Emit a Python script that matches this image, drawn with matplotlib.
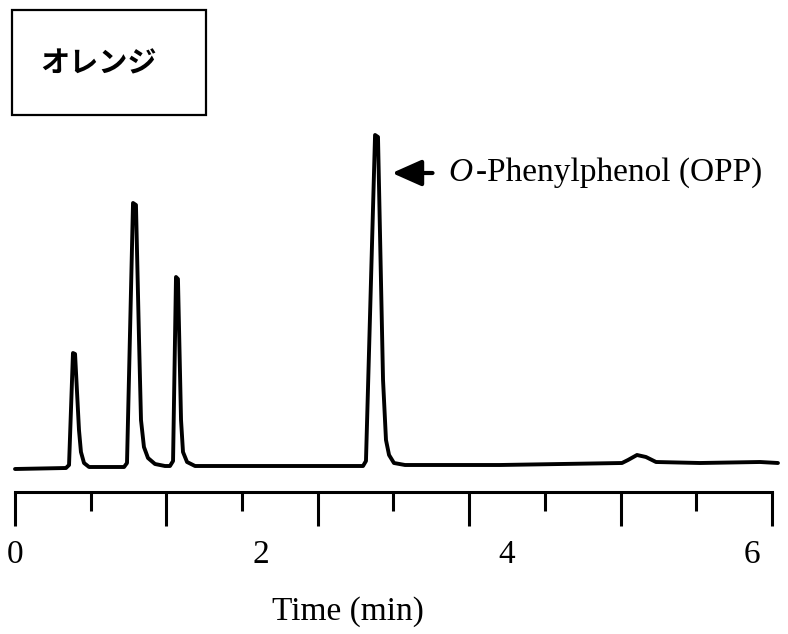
import numpy as np
import matplotlib
matplotlib.use("Agg")
import matplotlib.pyplot as plt
from matplotlib.patches import Rectangle

# chromatogram trace (time in min, detector signal in arbitrary units)
time = [0.000, 0.415, 0.440, 0.472, 0.489, 0.521, 0.537, 0.562, 0.603,
        0.888, 0.912, 0.961, 0.985, 1.010, 1.026, 1.050, 1.083, 1.140, 1.221,
        1.262, 1.287, 1.311, 1.327, 1.352, 1.368, 1.401, 1.466,
        2.321, 2.834, 2.858, 2.932, 2.956, 2.997, 3.021, 3.046, 3.086, 3.176,
        3.949, 4.943, 4.992, 5.065, 5.138, 5.220, 5.578, 6.067, 6.213]
signal = [0, 1, 4, 116, 115, 39, 17, 6, 2,
          2, 6, 266, 264, 129, 49, 22, 11, 5, 3,
          3, 8, 192, 190, 49, 17, 7, 3,
          3, 3, 8, 334, 332, 89, 29, 14, 6, 4,
          4, 6, 9, 14, 12, 7, 6, 7, 6]

tick_labels = ["0", "2", "4", "6"]
label_pos = [0, 2, 4, 6]
axis_end = 6.164          # recorder scale end
sample = "オレンジ"
peak_name = "-Phenylphenol (OPP)"

fig = plt.figure(figsize=(7.88, 6.34), dpi=100)
ax = fig.add_axes([0, 0, 1, 1])
ax.set_xlim(-0.1222, 6.2948)
ax.set_ylim(-165, 469)

ax.plot(time, signal, color="black", lw=2.8, solid_joinstyle="round", solid_capstyle="round")

# time axis drawn as a recorder scale below the trace
for s in ["top", "left", "right"]:
    ax.spines[s].set_visible(False)
ax.spines["bottom"].set_position(("data", -23))
ax.spines["bottom"].set_bounds(0, axis_end)
ax.spines["bottom"].set_linewidth(2.2)
ticks = np.linspace(0, axis_end, 11)
ax.set_xticks(ticks[::2])
ax.set_xticks(ticks[1::2], minor=True)
ax.set_xticklabels([])
ax.tick_params(axis="x", which="major", direction="out", length=24.5, width=2.2)
ax.tick_params(axis="x", which="minor", direction="out", length=14, width=2.2)
ax.set_yticks([])

serif = "Liberation Serif"
for x, lab in zip(label_pos, tick_labels):
    ax.text(x, -86, lab, ha="center", va="center", fontsize=24, family=serif)
ax.text(2.71, -143, "Time (min)", ha="center", va="center", fontsize=24, family=serif)

# peak annotation
ax.annotate("", xy=(3.070, 296), xytext=(3.40, 296),
            arrowprops=dict(arrowstyle="-|>,head_length=0.9,head_width=0.4",
                            color="black", lw=3, mutation_scale=20, shrinkA=0, shrinkB=0))
o_txt = ax.text(3.526, 296, "O", ha="left", va="center", fontsize=24, family=serif, style="italic")
ax.annotate(peak_name, xy=(1, 0.5), xycoords=o_txt, xytext=(3, 0), textcoords="offset points",
            ha="left", va="center", fontsize=24, family=serif)

# sample label box
fig.patches.append(Rectangle((12 / 788, 1 - 115 / 634), 194 / 788, 105 / 634,
                             transform=fig.transFigure, fill=False, lw=1.6, edgecolor="black"))
fig.text(98 / 788, 1 - 63 / 634, sample, ha="center", va="center", fontsize=21,
         family=["Noto Sans CJK JP", "DejaVu Sans"], weight="bold")

fig.savefig("out.png", dpi=100)
